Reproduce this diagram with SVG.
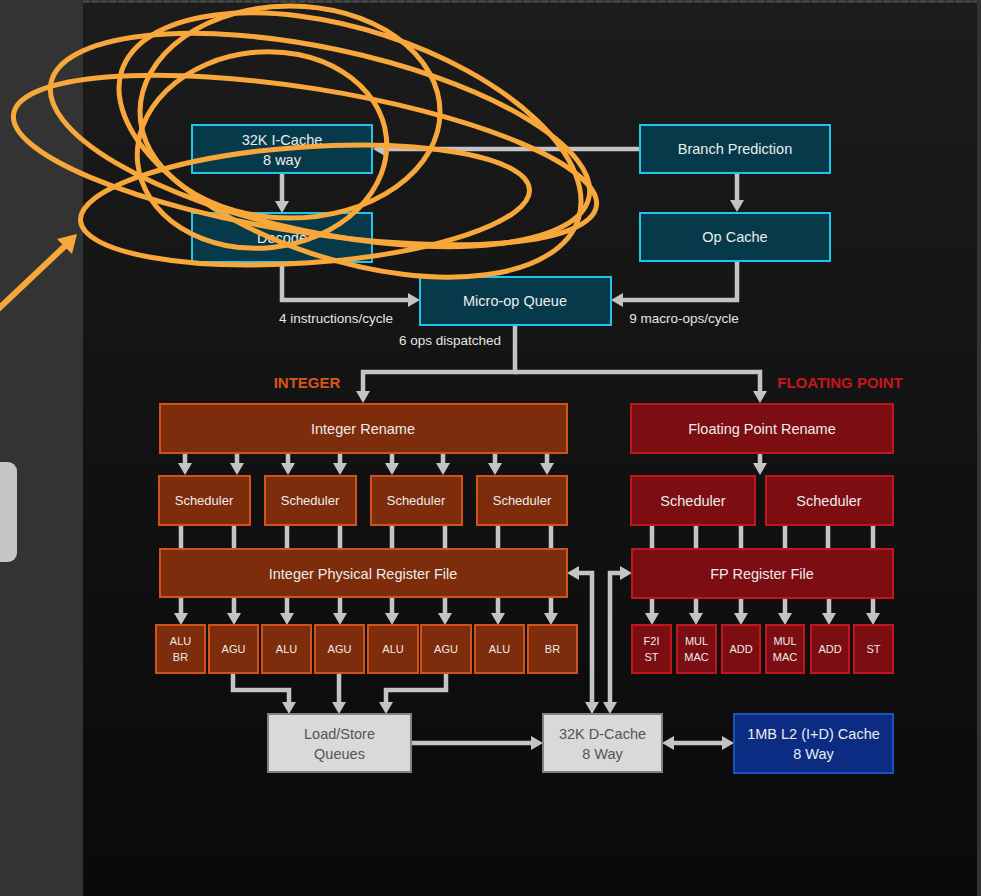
<svg xmlns="http://www.w3.org/2000/svg" width="981" height="896" viewBox="0 0 981 896">
<defs>
<linearGradient id="panel" x1="0" y1="0" x2="0" y2="1">
<stop offset="0" stop-color="#1c1c1c"/>
<stop offset="0.5" stop-color="#121212"/>
<stop offset="1" stop-color="#0a0a0a"/>
</linearGradient>
<marker id="ah" viewBox="0 0 12 14" refX="7" refY="7" markerWidth="12" markerHeight="14" markerUnits="userSpaceOnUse" orient="auto-start-reverse">
<path d="M0,0 L12,7 L0,14 z" fill="#c4c4c4"/>
</marker>
<style>
.conn{fill:none;stroke:#c4c4c4;stroke-width:4.5}
.arr{marker-end:url(#ah)}
.dbl{marker-start:url(#ah);marker-end:url(#ah)}
.teal{fill:#063a4b;stroke:#20c6ea;stroke-width:2}
.int{fill:#7d2d0b;stroke:#d1531b;stroke-width:2}
.fp{fill:#7c0d12;stroke:#c0171f;stroke-width:2}
.gray{fill:#d9d9d9;stroke:#8a7e80;stroke-width:2}
.l2{fill:#0b2c82;stroke:#1d50c2;stroke-width:2}
text{font-family:"Liberation Sans",Arial,sans-serif;text-anchor:middle}
.t{fill:#ececec;font-size:14.5px}
.ts{fill:#ececec;font-size:13px}
.tu{fill:#ececec;font-size:11px}
.lbl{fill:#e6e6e6;font-size:13.5px}
.dk{fill:#555555;font-size:14.5px}
.scr{fill:none;stroke:#f8a83b;stroke-width:5}
</style>
</defs>

<rect x="0" y="0" width="981" height="896" fill="#333333"/>
<rect x="83" y="3" width="894" height="893" fill="url(#panel)"/>
<line x1="83" y1="1.5" x2="977" y2="1.5" stroke="#4a4a4a" stroke-width="2" stroke-dasharray="6 3"/>
<rect x="-10" y="462" width="27" height="100" rx="9" fill="#c5c5c5"/>

<g id="connectors">
<path class="conn arr" d="M640,149 H378"/>
<path class="conn arr" d="M282,173 V208"/>
<path class="conn arr" d="M737,173 V207"/>
<path class="conn arr" d="M282,262 V300 H415"/>
<path class="conn arr" d="M737,261 V300 H616"/>
<path class="conn arr" d="M515,325 V372 H363 V398"/>
<path class="conn arr" d="M515,372 H760 V398"/>
<path class="conn arr" d="M185,453 V470"/>
<path class="conn arr" d="M237,453 V470"/>
<path class="conn arr" d="M288,453 V470"/>
<path class="conn arr" d="M340,453 V470"/>
<path class="conn arr" d="M392,453 V470"/>
<path class="conn arr" d="M443,453 V470"/>
<path class="conn arr" d="M495,453 V470"/>
<path class="conn arr" d="M547,453 V470"/>
<path class="conn" d="M181,525 V549 M234,525 V549 M287,525 V549 M340,525 V549 M392,525 V549 M445,525 V549 M498,525 V549 M551,525 V549"/>
<path class="conn arr" d="M181,597 V620"/>
<path class="conn arr" d="M234,597 V620"/>
<path class="conn arr" d="M287,597 V620"/>
<path class="conn arr" d="M340,597 V620"/>
<path class="conn arr" d="M392,597 V620"/>
<path class="conn arr" d="M445,597 V620"/>
<path class="conn arr" d="M498,597 V620"/>
<path class="conn arr" d="M551,597 V620"/>
<path class="conn arr" d="M233,673 V690 H289 V709"/>
<path class="conn arr" d="M339,673 V709"/>
<path class="conn arr" d="M446,673 V690 H386 V709"/>
<path class="conn arr" d="M411,743 H538"/>
<path class="conn dbl" d="M667,743 H729"/>
<path class="conn dbl" d="M592,709 V573 H572"/>
<path class="conn dbl" d="M610,709 V573 H627"/>
<path class="conn arr" d="M760,453 V470"/>
<path class="conn" d="M652,525 V549 M696,525 V549 M741,525 V549 M785,525 V549 M828,525 V549 M873,525 V549"/>
<path class="conn arr" d="M652,598 V620"/>
<path class="conn arr" d="M696,598 V620"/>
<path class="conn arr" d="M741,598 V620"/>
<path class="conn arr" d="M785,598 V620"/>
<path class="conn arr" d="M829,598 V620"/>
<path class="conn arr" d="M873,598 V620"/>
</g>

<g id="labels">
<text class="lbl" x="336" y="323">4 instructions/cycle</text>
<text class="lbl" x="684" y="323">9 macro-ops/cycle</text>
<text class="lbl" x="450" y="345">6 ops dispatched</text>
<text x="307" y="388" style="fill:#d8561c;font-size:15px;font-weight:bold">INTEGER</text>
<text x="840" y="388" style="fill:#c8161e;font-size:15px;font-weight:bold">FLOATING POINT</text>
</g>

<g id="icache"><rect class="teal" x="192" y="125" width="180" height="48"/><text class="t" x="282" y="145">32K I-Cache</text><text class="t" x="282" y="165">8 way</text></g>
<g id="decode"><rect class="teal" x="192" y="213" width="180" height="49"/><text class="t" x="282" y="243">Decode</text></g>
<g id="bp"><rect class="teal" x="640" y="125" width="190" height="48"/><text class="t" x="735" y="154">Branch Prediction</text></g>
<g id="opcache"><rect class="teal" x="640" y="213" width="190" height="48"/><text class="t" x="735" y="242">Op Cache</text></g>
<g id="moq"><rect class="teal" x="420" y="277" width="191" height="48"/><text class="t" x="515" y="306">Micro-op Queue</text></g>

<g id="int-rename"><rect class="int" x="160" y="404" width="407" height="49"/><text class="t" x="363" y="434">Integer Rename</text></g>
<g id="int-sched1"><rect class="int" x="159" y="476" width="91" height="49"/><text class="ts" x="204" y="505">Scheduler</text></g>
<g id="int-sched2"><rect class="int" x="265" y="476" width="91" height="49"/><text class="ts" x="310" y="505">Scheduler</text></g>
<g id="int-sched3"><rect class="int" x="371" y="476" width="91" height="49"/><text class="ts" x="416" y="505">Scheduler</text></g>
<g id="int-sched4"><rect class="int" x="477" y="476" width="90" height="49"/><text class="ts" x="522" y="505">Scheduler</text></g>
<g id="iprf"><rect class="int" x="160" y="549" width="407" height="48"/><text class="t" x="363" y="579">Integer Physical Register File</text></g>
<g id="iu1"><rect class="int" x="156" y="625" width="49" height="48"/><text class="tu" x="180.5" y="645">ALU</text><text class="tu" x="180.5" y="661">BR</text></g>
<g id="iu2"><rect class="int" x="209" y="625" width="49" height="48"/><text class="tu" x="233.5" y="653">AGU</text></g>
<g id="iu3"><rect class="int" x="262" y="625" width="49" height="48"/><text class="tu" x="286.5" y="653">ALU</text></g>
<g id="iu4"><rect class="int" x="315" y="625" width="49" height="48"/><text class="tu" x="339.5" y="653">AGU</text></g>
<g id="iu5"><rect class="int" x="368" y="625" width="50" height="48"/><text class="tu" x="393" y="653">ALU</text></g>
<g id="iu6"><rect class="int" x="421" y="625" width="50" height="48"/><text class="tu" x="446" y="653">AGU</text></g>
<g id="iu7"><rect class="int" x="475" y="625" width="49" height="48"/><text class="tu" x="499.5" y="653">ALU</text></g>
<g id="iu8"><rect class="int" x="528" y="625" width="49" height="48"/><text class="tu" x="552.5" y="653">BR</text></g>

<g id="fp-rename"><rect class="fp" x="631" y="404" width="262" height="49"/><text class="t" x="762" y="434">Floating Point Rename</text></g>
<g id="fp-sched1"><rect class="fp" x="631" y="476" width="124" height="49"/><text class="t" x="693" y="506">Scheduler</text></g>
<g id="fp-sched2"><rect class="fp" x="766" y="476" width="127" height="49"/><text class="t" x="829" y="506">Scheduler</text></g>
<g id="fprf"><rect class="fp" x="632" y="549" width="261" height="49"/><text class="t" x="762" y="579">FP Register File</text></g>
<g id="fu1"><rect class="fp" x="632" y="625" width="39" height="48"/><text class="tu" x="651.5" y="645">F2I</text><text class="tu" x="651.5" y="661">ST</text></g>
<g id="fu2"><rect class="fp" x="677" y="625" width="39" height="48"/><text class="tu" x="696.5" y="645">MUL</text><text class="tu" x="696.5" y="661">MAC</text></g>
<g id="fu3"><rect class="fp" x="722" y="625" width="38" height="48"/><text class="tu" x="741" y="653">ADD</text></g>
<g id="fu4"><rect class="fp" x="766" y="625" width="38" height="48"/><text class="tu" x="785" y="645">MUL</text><text class="tu" x="785" y="661">MAC</text></g>
<g id="fu5"><rect class="fp" x="811" y="625" width="38" height="48"/><text class="tu" x="830" y="653">ADD</text></g>
<g id="fu6"><rect class="fp" x="854" y="625" width="39" height="48"/><text class="tu" x="873.5" y="653">ST</text></g>

<g id="lsq"><rect class="gray" x="268" y="714" width="143" height="58"/><text class="dk" x="339.5" y="739">Load/Store</text><text class="dk" x="339.5" y="759">Queues</text></g>
<g id="dcache"><rect class="gray" x="543" y="714" width="119" height="58"/><text class="dk" x="602.5" y="739">32K D-Cache</text><text class="dk" x="602.5" y="759">8 Way</text></g>
<g id="l2"><rect class="l2" x="734" y="714" width="159" height="59"/><text class="t" x="813.5" y="739">1MB L2 (I+D) Cache</text><text class="t" x="813.5" y="759">8 Way</text></g>

<g id="annotation">
<ellipse class="scr" cx="305" cy="160" rx="295" ry="72" transform="rotate(9 305 160)"/>
<ellipse class="scr" cx="320" cy="140" rx="275" ry="92" transform="rotate(12 320 140)"/>
<ellipse class="scr" cx="290" cy="112" rx="150" ry="106"/>
<ellipse class="scr" cx="262" cy="150" rx="125" ry="98" transform="rotate(-6 262 150)"/>
<ellipse class="scr" cx="350" cy="145" rx="240" ry="115" transform="rotate(18 350 145)"/>
<ellipse class="scr" cx="305" cy="205" rx="225" ry="58" transform="rotate(-4 305 205)"/>
<line x1="-5" y1="312" x2="66" y2="245" stroke="#f8a83b" stroke-width="6"/>
<polygon points="77,234 57,239 72,254" fill="#f8a83b"/>
</g>
</svg>
